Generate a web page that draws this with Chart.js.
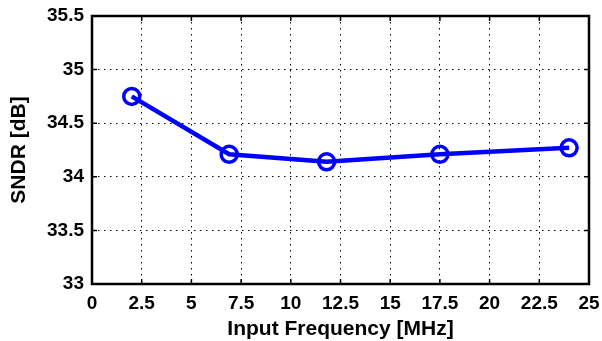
<!DOCTYPE html>
<html>
<head>
<meta charset="utf-8">
<script src="https://cdn.jsdelivr.net/npm/chart.js@4"></script>
<style>
  html, body { margin: 0; padding: 0; background: #fff; }
  #wrap { width: 602px; height: 341px; }
</style>
</head>
<body>
<div id="wrap"><canvas id="sndr-chart"></canvas></div>
<script>
const frequencies = [2, 6.9, 11.8, 17.5, 24];
const sndrValues = [34.75, 34.21, 34.14, 34.21, 34.27];
const xTicks = [0, 2.5, 5, 7.5, 10, 12.5, 15, 17.5, 20, 22.5, 25];
const yTicks = [33, 33.5, 34, 34.5, 35, 35.5];

// box round the plot and inward tick marks, like matlab
const boxPlugin = {
  id: "box",
  afterDraw(chart) {
    const { ctx, chartArea: a, scales } = chart;
    ctx.save();
    ctx.strokeStyle = "#000";
    ctx.lineWidth = 1.5;
    ctx.beginPath();
    for (const v of xTicks) {
      const px = scales.x.getPixelForValue(v);
      ctx.moveTo(px, a.bottom); ctx.lineTo(px, a.bottom - 5);
      ctx.moveTo(px, a.top); ctx.lineTo(px, a.top + 5);
    }
    for (const v of yTicks) {
      const py = scales.y.getPixelForValue(v);
      ctx.moveTo(a.left, py); ctx.lineTo(a.left + 5, py);
      ctx.moveTo(a.right, py); ctx.lineTo(a.right - 5, py);
    }
    ctx.stroke();
    ctx.lineWidth = 2.5;
    ctx.strokeRect(a.left, a.top, a.right - a.left, a.bottom - a.top);
    ctx.restore();
  },
};

const tickFont = { family: "Liberation Sans, Arial, sans-serif", size: 19, weight: "bold" };
const titleFont = { family: "Liberation Sans, Arial, sans-serif", size: 21, weight: "bold", lineHeight: 1.1 };

new Chart(document.getElementById("sndr-chart"), {
  type: "line",
  data: {
    datasets: [
      {
        data: frequencies.map((f, i) => ({ x: f, y: sndrValues[i] })),
        borderColor: "#0000ff",
        borderWidth: 4.5,
        pointRadius: 8,
        pointBorderWidth: 3.5,
        pointBackgroundColor: "rgba(0,0,0,0)",
        pointBorderColor: "#0000ff",
        fill: false,
        tension: 0,
      },
    ],
  },
  options: {
    responsive: true,
    maintainAspectRatio: false,
    animation: false,
    layout: { padding: { top: 16, right: 13, left: 0, bottom: 0 } },
    plugins: {
      legend: { display: false },
      tooltip: { enabled: false },
    },
    scales: {
      x: {
        type: "linear",
        min: 0,
        max: 25,
        afterBuildTicks: (axis) => { axis.ticks = xTicks.map((v) => ({ value: v })); },
        afterFit: (axis) => { axis.height = 57; axis.paddingRight = 0; },
        ticks: { color: "#000", font: tickFont, padding: 8, maxRotation: 0, callback: (v) => String(v) },
        grid: { color: "#000", lineWidth: 1, tickLength: 0 },
        border: { display: false, dash: [1.5, 4.5] },
        title: { display: true, text: "Input Frequency [MHz]", color: "#000", font: titleFont, padding: { top: 0, bottom: 0 } },
      },
      y: {
        min: 33,
        max: 35.5,
        afterBuildTicks: (axis) => { axis.ticks = yTicks.map((v) => ({ value: v })); },
        afterFit: (axis) => { axis.width = 92; axis.paddingTop = 0; axis.paddingBottom = 0; },
        ticks: { color: "#000", font: tickFont, padding: 8, callback: (v) => String(v) },
        grid: { color: "#000", lineWidth: 1, tickLength: 0 },
        border: { display: false, dash: [1.5, 4.5] },
        title: { display: true, text: "SNDR [dB]", color: "#000", font: titleFont, padding: { top: 8, bottom: 0 } },
      },
    },
  },
  plugins: [boxPlugin],
});
</script>
</body>
</html>
